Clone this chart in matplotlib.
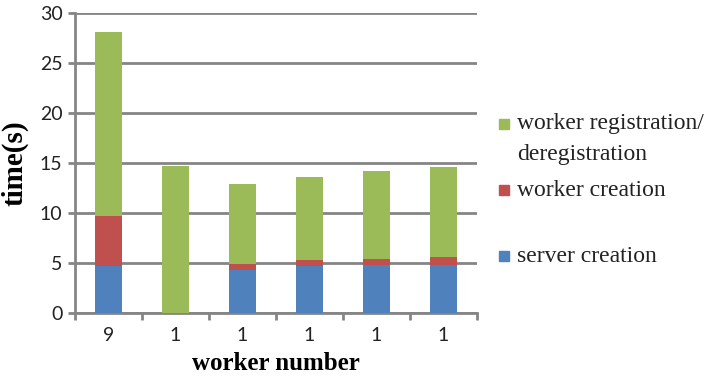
import matplotlib
matplotlib.use("Agg")
import matplotlib.pyplot as plt
from matplotlib.patches import Rectangle
import numpy as np

# Data
worker_numbers = ["9", "1", "1", "1", "1", "1"]
server_creation = [4.7, 0.0, 4.3, 4.7, 4.8, 4.8]
worker_creation = [5.0, 0.0, 0.65, 0.6, 0.65, 0.8]
registration = [18.4, 14.7, 8.0, 8.3, 8.8, 9.0]

series_labels = ["server creation", "worker creation", "worker registration/\nderegistration"]
series_colors = ["#4f81bd", "#c0504d", "#9bbb59"]

W, H = 706, 384
fig = plt.figure(figsize=(W / 100, H / 100), dpi=100)
ax = fig.add_axes([75 / W, 1 - 313 / H, (477 - 75) / W, (313 - 13) / H])

x = np.arange(len(worker_numbers))
bottom = np.zeros(len(x))
for vals, color in zip([server_creation, worker_creation, registration], series_colors):
    ax.bar(x, vals, width=0.4, bottom=bottom, color=color, zorder=3, linewidth=0)
    bottom += np.array(vals)

grid_color = "#858585"
ax.set_ylim(0, 30)
ax.set_xlim(-0.5, len(x) - 0.5)
ax.set_yticks(np.arange(0, 31, 5))
ax.yaxis.grid(True, color=grid_color, linewidth=2.0, zorder=0)
ax.set_axisbelow(True)

for side in ["top", "right"]:
    ax.spines[side].set_visible(False)
for side in ["left", "bottom"]:
    ax.spines[side].set_color(grid_color)
    ax.spines[side].set_linewidth(2.0)

ax.set_xticks(x)
ax.set_xticklabels(worker_numbers, family="Lato", size=14, color="#222222")
ax.set_xticks(np.arange(-0.5, len(x), 1.0), minor=True)
ax.tick_params(axis="x", which="major", length=0, pad=10)
ax.tick_params(axis="x", which="minor", length=5, width=2.0, color=grid_color, direction="out")
ax.tick_params(axis="y", length=5, width=2.0, color=grid_color, direction="out", pad=4)
for lbl in ax.get_yticklabels():
    lbl.set_fontfamily("Lato")
    lbl.set_fontsize(14)
    lbl.set_color("#222222")

ax.set_xlabel("worker number", family="Liberation Serif", fontweight="bold", fontsize=18, labelpad=6)
ax.set_ylabel("time(s)", family="Liberation Serif", fontweight="bold", fontsize=21, labelpad=8)

# Legend drawn at fixed pixel positions on the right
legend_order = [2, 1, 0]
centers = [124, 190, 256]
for idx, cy in zip(legend_order, centers):
    fig.add_artist(Rectangle((499 / W, 1 - (cy + 5) / H), 10 / W, 10 / H,
                             transform=fig.transFigure, color=series_colors[idx]))
    for j, line in enumerate(series_labels[idx].split("\n")):
        fig.text(517 / W, 1 - (cy + 31 * j) / H, line, family="Liberation Serif",
                 fontsize=17, va="center", ha="left", color="#222222")

fig.savefig("out.png", dpi=100)
